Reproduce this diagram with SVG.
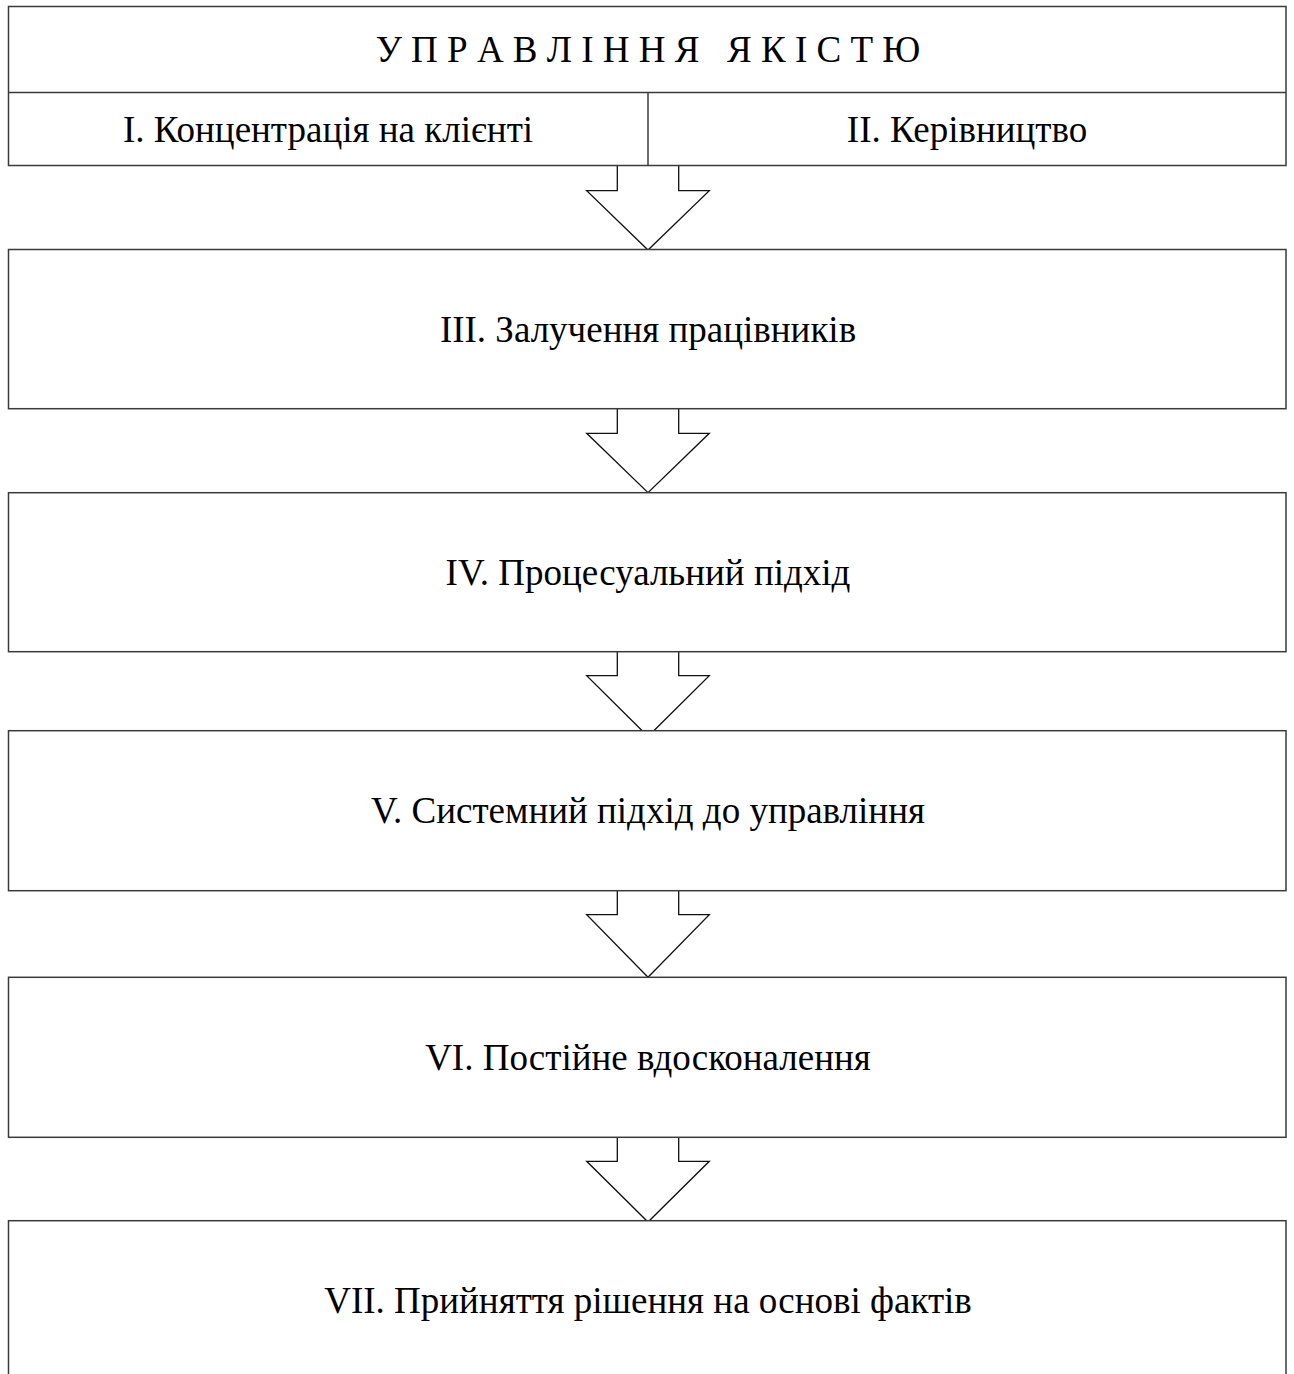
<svg xmlns="http://www.w3.org/2000/svg" width="1294" height="1374" viewBox="0 0 1294 1374">
<style>
.box{fill:#fff;stroke:#3a3a3a;stroke-width:1.5}
.line{stroke:#3a3a3a;stroke-width:1.5;fill:none}
.arrow{fill:none;stroke:#111;stroke-width:1.3;stroke-linejoin:miter}
.t{font-family:"Liberation Serif","Times New Roman",serif;font-size:37px;fill:#000;text-anchor:middle}
</style>
<rect width="1294" height="1374" fill="#fff"/>
<g id="connectors">
<polyline class="arrow" points="617.3,165.5 617.3,190.7 586.7,190.7 648,250 709.3,190.7 678.7,190.7 678.7,165.5"/>
<polyline class="arrow" points="617.3,408.7 617.3,433.3 586.7,433.3 648,492.7 709.3,433.3 678.7,433.3 678.7,408.7"/>
<polyline class="arrow" points="617.3,651.7 617.3,675.7 586.7,675.7 648,736.5 709.3,675.7 678.7,675.7 678.7,651.7"/>
<polyline class="arrow" points="617.3,890.7 617.3,914.7 586.7,914.7 648,977.3 709.3,914.7 678.7,914.7 678.7,890.7"/>
<polyline class="arrow" points="617.3,1137.3 617.3,1161.3 586.7,1161.3 648,1222 709.3,1161.3 678.7,1161.3 678.7,1137.3"/>
</g>
<g id="header">
<rect class="box" x="8.5" y="6.5" width="1277.5" height="159"/>
<line class="line" x1="8.5" y1="92.5" x2="1286" y2="92.5"/>
<line class="line" x1="648" y1="92.5" x2="648" y2="165.5"/>
<text class="t" x="648" y="62" xml:space="preserve">У П Р А В Л І Н Н Я   Я К І С Т Ю</text>
</g>
<g id="node-1"><text class="t" x="328" y="141.7">I. Концентрація на клієнті</text></g>
<g id="node-2"><text class="t" x="967" y="141.7">II. Керівництво</text></g>
<g id="node-3">
<rect class="box" x="8.5" y="249.5" width="1277.5" height="159.2"/>
<text class="t" x="648" y="341.6">III. Залучення працівників</text>
</g>
<g id="node-4">
<rect class="box" x="8.5" y="492.7" width="1277.5" height="159"/>
<text class="t" x="648" y="584.7">IV. Процесуальний підхід</text>
</g>
<g id="node-5">
<rect class="box" x="8.5" y="730.7" width="1277.5" height="160"/>
<text class="t" x="648" y="823.2">V. Системний підхід до управління</text>
</g>
<g id="node-6">
<rect class="box" x="8.5" y="977.3" width="1277.5" height="160"/>
<text class="t" x="648" y="1069.8">VI. Постійне вдосконалення</text>
</g>
<g id="node-7">
<rect class="box" x="8.5" y="1220.7" width="1277.5" height="180"/>
<text class="t" x="648" y="1313.2">VII. Прийняття рішення на основі фактів</text>
</g>
</svg>
